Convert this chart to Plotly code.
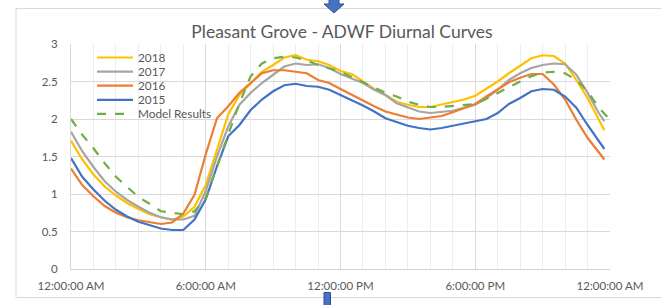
import plotly.graph_objects as go

# ---------------- data ----------------
HOURS = [0, 0.5, 1, 1.5, 2, 2.5, 3, 3.5, 4, 4.5, 5, 5.5, 6, 6.5, 7, 7.5, 8, 8.5, 9, 9.5,
         10, 10.5, 11, 11.5, 12, 12.5, 13, 13.5, 14, 14.5, 15, 15.5, 16, 16.5, 17, 17.5,
         18, 18.5, 19, 19.5, 20, 20.5, 21, 21.5, 22, 22.5, 23, 23.5, 23.75]
MODEL_HOURS = [0, 0.5, 1, 1.5, 2, 2.5, 3, 3.5, 4, 4.5, 5, 5.5, 6, 6.5, 7, 7.5, 8, 8.5, 9, 9.5,
               10, 10.5, 11, 11.5, 12, 12.5, 13, 13.5, 14, 14.5, 15, 15.5, 16, 16.5, 17, 17.5,
               18, 18.5, 19, 19.5, 20, 20.5, 21, 21.5, 22, 22.5, 23, 23.5, 24]

Y2018 = [1.71, 1.46, 1.26, 1.10, 0.98, 0.88, 0.80, 0.73, 0.69, 0.66, 0.70, 0.83, 1.12, 1.59,
         2.06, 2.32, 2.48, 2.63, 2.72, 2.82, 2.85, 2.79, 2.77, 2.72, 2.64, 2.60, 2.50, 2.40,
         2.32, 2.23, 2.19, 2.16, 2.16, 2.19, 2.23, 2.26, 2.31, 2.40, 2.50, 2.61, 2.71, 2.81,
         2.85, 2.84, 2.74, 2.52, 2.28, 2.00, 1.85]
Y2017 = [1.83, 1.57, 1.36, 1.17, 1.03, 0.92, 0.83, 0.75, 0.69, 0.66, 0.66, 0.71, 1.04, 1.50,
         1.90, 2.19, 2.35, 2.48, 2.59, 2.70, 2.74, 2.72, 2.73, 2.68, 2.60, 2.54, 2.48, 2.39,
         2.32, 2.21, 2.15, 2.10, 2.08, 2.09, 2.11, 2.15, 2.19, 2.28, 2.39, 2.52, 2.61, 2.68,
         2.72, 2.74, 2.73, 2.59, 2.35, 2.08, 1.97]
Y2016 = [1.34, 1.12, 0.97, 0.84, 0.75, 0.69, 0.65, 0.62, 0.60, 0.62, 0.74, 0.99, 1.53, 2.01,
         2.17, 2.35, 2.48, 2.61, 2.65, 2.65, 2.63, 2.61, 2.52, 2.48, 2.40, 2.32, 2.24, 2.17,
         2.10, 2.06, 2.02, 2.00, 2.02, 2.04, 2.09, 2.15, 2.20, 2.30, 2.39, 2.49, 2.55, 2.60,
         2.60, 2.46, 2.26, 1.99, 1.75, 1.55, 1.46]
Y2015 = [1.48, 1.23, 1.06, 0.91, 0.79, 0.70, 0.63, 0.58, 0.54, 0.52, 0.52, 0.66, 0.93, 1.37,
         1.77, 1.92, 2.12, 2.26, 2.37, 2.45, 2.47, 2.44, 2.43, 2.39, 2.32, 2.26, 2.18, 2.10,
         2.01, 1.96, 1.91, 1.88, 1.86, 1.88, 1.91, 1.95, 1.97, 2.00, 2.08, 2.20, 2.28, 2.37,
         2.40, 2.39, 2.30, 2.15, 1.92, 1.70, 1.60]
MODEL = [2.00, 1.79, 1.61, 1.41, 1.23, 1.09, 0.96, 0.87, 0.77, 0.75, 0.73, 0.77, 0.95, 1.37,
         1.79, 2.21, 2.57, 2.74, 2.81, 2.83, 2.82, 2.78, 2.72, 2.68, 2.63, 2.56, 2.49, 2.43,
         2.35, 2.30, 2.23, 2.19, 2.16, 2.16, 2.17, 2.18, 2.20, 2.27, 2.35, 2.43, 2.50, 2.57,
         2.62, 2.63, 2.61, 2.52, 2.37, 2.15, 1.99]

SERIES_NAMES = ["2018", "2017", "2016", "2015", "Model Results"]
SERIES_COLORS = ["#FFC000", "#A5A5A5", "#ED7D31", "#4472C4", "#70AD47"]
SERIES_DASH = ["solid", "solid", "solid", "solid", "dash"]

X_TICKS = [0, 6, 12, 18, 24]
X_TICK_LABELS = ["12:00:00 AM", "6:00:00 AM", "12:00:00 PM", "6:00:00 PM", "12:00:00 AM"]
Y_TICKS = [0, 0.5, 1, 1.5, 2, 2.5, 3]
Y_TICK_LABELS = ["0", "0.5", "1", "1.5", "2", "2.5", "3"]

TITLE = "Pleasant Grove - ADWF Diurnal Curves"

# ---------------- figure ----------------
W, H = 661, 305
L, R, T, B = 71, 51, 44, 36
PW, PH = W - L - R, H - T - B

def px(xp):
    return (xp - L) / PW

def py(yp):
    return (H - B - yp) / PH

FONT = "Lato, 'Open Sans', sans-serif"
TXT = "#595959"

fig = go.Figure()
xs = [HOURS, HOURS, HOURS, HOURS, MODEL_HOURS]
ys = [Y2018, Y2017, Y2016, Y2015, MODEL]
for name, color, dash, x, y in zip(SERIES_NAMES, SERIES_COLORS, SERIES_DASH, xs, ys):
    fig.add_trace(go.Scatter(x=x, y=y, mode="lines", name=name, showlegend=False,
                             line=dict(color=color, width=2.2, dash=dash)))

shapes = []
annotations = []
# outer chart border
shapes.append(dict(type="rect", xref="paper", yref="paper",
                   x0=px(16), x1=px(668), y0=py(297.5), y1=py(8.5),
                   line=dict(color="#D9D9D9", width=1), fillcolor="rgba(0,0,0,0)", layer="below"))
# manual legend
for i, (name, color, dash) in enumerate(zip(SERIES_NAMES, SERIES_COLORS, SERIES_DASH)):
    yy = 57.5 + 14.1 * i
    shapes.append(dict(type="line", xref="paper", yref="paper",
                       x0=px(97), x1=px(133), y0=py(yy), y1=py(yy),
                       line=dict(color=color, width=2.2, dash=dash)))
    annotations.append(dict(xref="paper", yref="paper", x=px(136), y=py(yy),
                            xanchor="left", yanchor="middle", text=name, showarrow=False,
                            font=dict(family=FONT, size=11.8, color=TXT)))
# blue arrow at top (decoration outside chart)
shapes.append(dict(type="path", xref="paper", yref="paper",
                   path=f"M {px(329)} {py(-1)} L {px(339)} {py(-1)} L {px(339)} {py(4)} "
                        f"L {px(344)} {py(4)} L {px(334)} {py(13)} L {px(324)} {py(4)} "
                        f"L {px(329)} {py(4)} Z",
                   fillcolor="#4472C4", line=dict(color="#2F528F", width=1)))
# blue block at bottom
shapes.append(dict(type="rect", xref="paper", yref="paper",
                   x0=px(324), x1=px(330.5), y0=py(306), y1=py(292.5),
                   fillcolor="#4472C4", line=dict(color="#2F528F", width=1)))

fig.update_layout(
    width=W, height=H,
    margin=dict(l=L, r=R, t=T, b=B),
    paper_bgcolor="white", plot_bgcolor="white",
    title=dict(text=TITLE, x=(342) / W, xanchor="center", y=1 - 32 / H, yanchor="middle",
               font=dict(family=FONT, size=17.5, color=TXT)),
    shapes=shapes, annotations=annotations,
    showlegend=False,
)
fig.update_xaxes(range=[0, 24], tickvals=X_TICKS, ticktext=X_TICK_LABELS,
                 showgrid=True, gridcolor="#D9D9D9", gridwidth=1,
                 minor=dict(dtick=1, tick0=0, showgrid=True, gridcolor="#EDEDED", gridwidth=1),
                 zeroline=False, showline=True, linecolor="#D0D0D0", linewidth=1,
                 ticks="", ticklabelstandoff=6,
                 tickfont=dict(family=FONT, size=11.5, color=TXT), fixedrange=True)
fig.update_yaxes(range=[0, 3], tickvals=Y_TICKS, ticktext=Y_TICK_LABELS,
                 showgrid=True, gridcolor="#D9D9D9", gridwidth=1,
                 zeroline=False, showline=True, linecolor="#D9D9D9", linewidth=1,
                 ticks="", ticklabelstandoff=10,
                 tickfont=dict(family=FONT, size=11.5, color=TXT), fixedrange=True)

fig.write_html("out.html", config={"displayModeBar": False},
               post_script="document.body.style.margin='0';document.body.style.padding='0';")
